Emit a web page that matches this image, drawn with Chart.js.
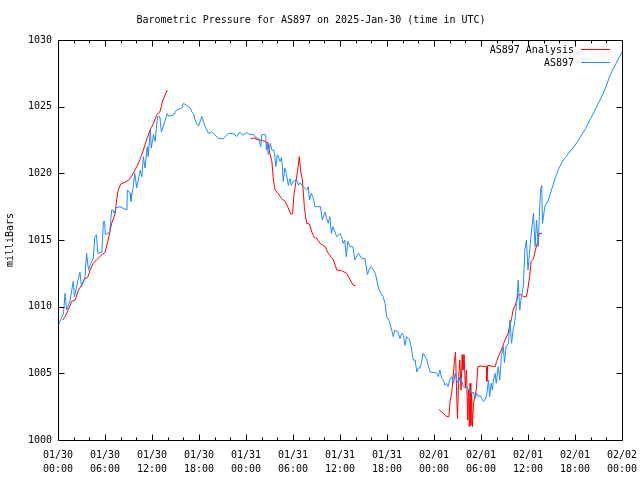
<!DOCTYPE html>
<html>
<head>
<meta charset="utf-8">
<script src="https://cdn.jsdelivr.net/npm/chart.js@4"></script>
<style>
  html, body { margin: 0; padding: 0; background: #fff; }
  #wrap { width: 640px; height: 480px; }
</style>
</head>
<body>
<div id="wrap"><canvas id="js-chart-baro"></canvas></div>
<script>
// Hours since 2025-01-30 00:00 UTC, and pressure readings (mb)
const blueHours = [
  0.0, 0.4, 0.7, 0.9, 1.1, 1.5, 1.95, 2.1, 2.6, 2.8, 3.0, 3.45, 3.65, 3.9, 4.1, 4.5, 4.7, 4.9, 5.1, 5.6,
  5.8, 5.95, 6.05, 6.6, 6.85, 7.0, 7.2, 7.4, 7.9, 8.8, 8.85, 9.2, 9.3, 9.6, 9.8, 10.05, 10.5, 10.7, 10.9, 11.1,
  11.4, 11.5, 11.8, 11.9, 12.2, 12.4, 12.7, 13.0, 13.2, 13.7, 13.95, 14.1, 14.7, 15.15, 15.8, 16.0, 16.45, 16.85, 17.1, 17.3,
  17.5, 17.8, 17.95, 18.35, 18.8, 19.2, 19.6, 20.0, 20.5, 21.1, 21.75, 22.5, 22.8, 23.2, 23.6, 24.1, 24.5, 24.9, 25.2, 25.6,
  25.9, 26.0, 26.5, 26.6, 26.7, 26.85, 27.1, 27.3, 27.5, 27.65, 27.8, 28.0, 28.35, 28.55, 28.75, 28.95, 29.15, 29.4, 29.6, 29.8,
  30.0, 30.5, 30.7, 30.9, 31.3, 31.75, 31.95, 32.1, 32.35, 32.6, 32.8, 33.5, 33.75, 34.1, 34.3, 34.5, 34.7, 34.9, 35.1, 35.35,
  35.6, 36.0, 36.2, 36.4, 36.6, 36.8, 37.0, 37.3, 37.65, 37.9, 38.35, 38.8, 39.2, 39.5, 39.8, 40.0, 40.5, 40.7, 40.9, 41.1,
  41.5, 41.75, 41.95, 42.3, 42.6, 42.8, 43.0, 43.4, 43.65, 43.9, 44.1, 44.3, 44.5, 44.9, 45.15, 45.35, 45.6, 45.8, 46.0, 46.2,
  46.4, 46.6, 47.05, 47.25, 47.5, 48.1, 48.35, 48.55, 48.75, 49.0, 49.2, 49.4, 49.6, 49.8, 50.0, 50.25, 50.5, 50.7, 50.9, 51.1,
  51.3, 51.5, 51.75, 51.95, 52.2, 52.4, 52.6, 52.8, 53.0, 53.25, 53.45, 53.65, 53.9, 54.1, 54.3, 54.5, 54.7, 54.95, 55.1, 55.3,
  55.45, 55.6, 55.8, 55.95, 56.2, 56.4, 56.6, 56.85, 57.0, 57.2, 57.5, 57.7, 57.9, 58.1, 58.3, 58.55, 58.75, 58.95, 59.15, 59.4,
  59.6, 59.8, 60.0, 60.3, 60.5, 60.7, 60.9, 61.1, 61.3, 61.45, 61.6, 61.75, 61.85, 62.15, 62.6, 63.0, 63.45, 63.85, 64.4, 65.3,
  66.0, 66.6, 67.3, 67.9, 68.6, 69.2, 69.9, 70.5, 71.2, 72.0
];
const bluePressure = [
  1008.6, 1009.1, 1009.5, 1011.0, 1009.75, 1010.35, 1011.9, 1010.75, 1012.1, 1012.6, 1011.5, 1012.25, 1014.0, 1012.75, 1013.1, 1013.65, 1015.25, 1015.4, 1014.0, 1014.1,
  1016.4, 1016.4, 1015.4, 1015.6, 1017.25, 1017.25, 1017.0, 1017.4, 1017.5, 1017.25, 1018.75, 1018.5, 1017.9, 1019.0, 1020.0, 1018.9, 1020.25, 1019.75, 1021.25, 1020.4,
  1022.0, 1021.25, 1023.25, 1021.9, 1022.9, 1022.4, 1024.25, 1024.25, 1023.1, 1024.0, 1024.5, 1024.3, 1024.35, 1024.75, 1024.9, 1025.25, 1025.1, 1024.9, 1024.6, 1024.5,
  1024.0, 1023.6, 1023.55, 1024.25, 1023.5, 1023.0, 1023.1, 1022.9, 1022.6, 1022.6, 1023.0, 1022.95, 1022.75, 1023.1, 1022.85, 1023.05, 1022.9, 1022.95, 1022.7, 1022.6,
  1022.0, 1022.9, 1022.9, 1021.75, 1022.25, 1021.4, 1022.25, 1021.75, 1021.75, 1021.5, 1020.5, 1021.4, 1020.9, 1021.2, 1019.4, 1020.4, 1020.0, 1019.1, 1019.6, 1019.1,
  1019.4, 1019.5, 1019.1, 1019.3, 1019.0, 1018.75, 1019.0, 1018.0, 1018.5, 1018.1, 1017.5, 1017.5, 1016.5, 1017.1, 1016.6, 1016.25, 1016.75, 1015.5, 1016.0, 1015.6,
  1015.25, 1015.5, 1015.25, 1014.75, 1015.0, 1013.75, 1014.9, 1014.5, 1014.5, 1013.5, 1014.0, 1013.6, 1013.6, 1012.4, 1012.9, 1013.0, 1012.5, 1012.0, 1011.4, 1011.1,
  1010.75, 1010.25, 1009.25, 1008.9, 1008.25, 1007.75, 1008.25, 1008.1, 1007.6, 1008.0, 1007.85, 1007.1, 1007.75, 1007.5, 1006.75, 1006.0, 1006.0, 1005.1, 1005.4, 1005.4,
  1005.75, 1006.5, 1006.1, 1005.6, 1005.1, 1005.05, 1005.0, 1004.75, 1005.25, 1004.6, 1004.5, 1004.1, 1004.25, 1004.0, 1004.5, 1004.75, 1004.25, 1005.0, 1004.5, 1004.25,
  1004.75, 1004.5, 1004.0, 1003.9, 1004.0, 1003.75, 1003.75, 1003.5, 1003.6, 1003.1, 1003.5, 1003.25, 1003.35, 1003.1, 1002.9, 1003.0, 1003.25, 1004.5, 1003.25, 1004.25,
  1003.75, 1004.5, 1005.0, 1004.25, 1005.5, 1004.5, 1006.25, 1007.0, 1005.8, 1007.0, 1007.25, 1009.0, 1007.25, 1008.25, 1008.8, 1010.25, 1012.0, 1009.75, 1010.75, 1011.5,
  1014.25, 1015.0, 1012.75, 1014.75, 1016.0, 1017.0, 1014.5, 1016.5, 1014.5, 1016.75, 1018.75, 1019.1, 1016.25, 1017.5, 1018.0, 1018.75, 1019.6, 1020.25, 1020.9, 1021.6,
  1022.1, 1022.65, 1023.3, 1024.0, 1024.8, 1025.5, 1026.4, 1027.4, 1028.2, 1029.1
];

// Analysis series, null marks the gaps between runs
const redHours = [
  0.6, 0.9, 1.3, 1.75, 2.2, 2.6, 3.0, 3.45, 3.8, 4.1, 4.5, 4.9, 5.6, 6.0, 6.4, 6.85, 7.3, 7.5, 7.7, 8.0,
  8.8, 9.2, 9.6, 10.05, 10.5, 10.9, 11.3, 11.75, 12.2, 12.6, 13.0, 13.4, 13.95, 19.0,
  24.6, 25.0, 25.4, 25.8, 26.4, 26.8, 27.05, 27.3, 27.5, 27.7, 28.1, 28.55, 29.0, 29.4, 29.7, 29.95, 30.1, 30.4, 30.6, 30.8,
  31.0, 31.2, 31.45, 31.6, 31.75, 32.1, 32.4, 32.7, 33.0, 33.45, 34.1, 34.5, 35.15, 35.6, 36.2, 36.85, 37.3, 37.7, 38.0, 43.0,
  48.6, 49.2, 49.6, 49.9, 50.05, 50.25, 50.45, 50.6, 50.75, 50.9, 51.0, 51.15, 51.3, 51.45, 51.6, 51.7, 51.85, 52.0, 52.15, 52.3,
  52.4, 52.5, 52.6, 52.7, 52.8, 52.9, 53.05, 53.2, 53.4, 53.6, 54.0, 54.4, 54.7, 54.75, 54.85, 55.3, 55.8, 56.0, 56.2, 56.6,
  57.0, 57.45, 57.9, 58.1, 58.45, 58.75, 59.1, 59.4, 59.8, 60.0, 60.2, 60.4, 60.7, 60.95, 61.25, 61.45, 61.8
];
const redPressure = [
  1009.0, 1009.25, 1009.75, 1010.4, 1010.5, 1011.25, 1011.6, 1012.1, 1012.2, 1012.75, 1013.25, 1013.5, 1013.9, 1014.05, 1015.0, 1016.25, 1017.0, 1018.1, 1018.75, 1019.2,
  1019.4, 1019.6, 1020.0, 1020.5, 1021.1, 1021.75, 1022.5, 1023.25, 1023.75, 1024.4, 1024.6, 1025.5, 1026.25, null,
  1022.6, 1022.65, 1022.55, 1022.5, 1022.4, 1022.3, 1021.5, 1020.9, 1019.5, 1018.75, 1018.5, 1018.1, 1017.9, 1017.4, 1016.95, 1016.95, 1018.25, 1019.5, 1020.25, 1021.25,
  1020.1, 1019.5, 1017.5, 1016.75, 1016.25, 1016.2, 1015.6, 1015.2, 1015.15, 1014.75, 1014.5, 1014.0, 1013.5, 1012.75, 1012.7, 1012.5, 1012.0, 1011.6, 1011.6, null,
  1002.3, 1002.0, 1001.75, 1001.75, 1002.9, 1003.5, 1004.75, 1005.9, 1006.6, 1003.25, 1001.6, 1004.75, 1006.0, 1003.75, 1006.4, 1005.25, 1006.4, 1003.9, 1005.25, 1001.5,
  1003.75, 1001.0, 1004.25, 1001.1, 1003.5, 1001.0, 1002.75, 1003.25, 1003.75, 1005.5, 1005.55, 1005.5, 1005.5, 1004.4, 1005.6, 1005.55, 1005.5, 1005.9, 1006.2, 1006.75,
  1007.4, 1008.0, 1009.1, 1009.75, 1010.25, 1010.9, 1010.9, 1010.75, 1010.75, 1011.4, 1012.25, 1013.4, 1013.6, 1014.25, 1014.9, 1015.5, 1015.5
];

// Axis tick labels (every 6 hours)
const tickDates = ['01/30', '01/30', '01/30', '01/30', '01/31', '01/31', '01/31', '01/31', '02/01', '02/01', '02/01', '02/01', '02/02'];
const tickTimes = ['00:00', '06:00', '12:00', '18:00', '00:00', '06:00', '12:00', '18:00', '00:00', '06:00', '12:00', '18:00', '00:00'];
const yTicks = [1000, 1005, 1010, 1015, 1020, 1025, 1030];

const seriesNames = ['AS897 Analysis', 'AS897'];
const seriesColors = ['#ff0000', '#1e8cff'];

const monoFont = { family: "'DejaVu Sans Mono', monospace", size: 10 };

// Frame, inward ticks and legend drawn the gnuplot way
const gnuplotFrame = {
  id: 'gnuplotFrame',
  afterDraw(chart) {
    const { ctx, chartArea: a, scales: { x, y } } = chart;
    const L = Math.round(a.left) + .5, R = Math.round(a.right) + .5;
    const T = Math.round(a.top) + .5, B = Math.round(a.bottom) + .5;
    const seg = (x1, y1, x2, y2) => { ctx.moveTo(x1, y1); ctx.lineTo(x2, y2); };

    ctx.save();
    ctx.strokeStyle = '#000';
    ctx.lineWidth = 1;
    ctx.beginPath();
    ctx.rect(L, T, R - L, B - T);

    // x ticks: major every 6h, minor every 2h, bottom and top
    for (let h = 0; h <= 72; h += 2) {
      const px = Math.round(x.getPixelForValue(h)) + .5;
      const len = h % 6 === 0 ? 6 : 3;
      seg(px, B, px, B - len);
      seg(px, T, px, T + len);
    }
    // y ticks, left and right
    yTicks.forEach(v => {
      const py = Math.round(y.getPixelForValue(v)) + .5;
      seg(L, py, L + 6, py);
      seg(R, py, R - 6, py);
    });
    ctx.stroke();

    // legend
    ctx.font = "10px 'DejaVu Sans Mono', monospace";
    ctx.fillStyle = '#000';
    ctx.textAlign = 'right';
    ctx.textBaseline = 'middle';
    seriesNames.forEach((name, i) => {
      const ly = 50 + i * 13;
      ctx.fillText(name, 574, ly);
      ctx.beginPath();
      ctx.strokeStyle = seriesColors[i];
      seg(581, ly - .5, 610, ly - .5);
      ctx.stroke();
    });
    ctx.restore();
  }
};

let chartCon = document.getElementById('js-chart-baro');

let chartData = {
  datasets: [
    {
      label: seriesNames[1],
      data: blueHours.map((h, i) => ({ x: h, y: bluePressure[i] })),
      borderColor: seriesColors[1],
      borderWidth: 1,
      pointRadius: 0,
      tension: 0
    },
    {
      label: seriesNames[0],
      data: redHours.map((h, i) => ({ x: h, y: redPressure[i] })),
      borderColor: seriesColors[0],
      borderWidth: 1,
      pointRadius: 0,
      tension: 0,
      spanGaps: false
    }
  ]
};

let chartBaro = new Chart(chartCon, {
  type: 'line',
  data: chartData,
  plugins: [gnuplotFrame],
  options: {
    responsive: true,
    maintainAspectRatio: false,
    animation: false,
    layout: { padding: { left: 0, right: 18, top: 0, bottom: 0 } },
    plugins: {
      legend: { display: false },
      tooltip: { enabled: false },
      title: {
        display: true,
        text: 'Barometric Pressure for AS897 on 2025-Jan-30 (time in UTC)',
        color: '#000',
        font: { ...monoFont, weight: 'normal', lineHeight: 1.2 },
        padding: { top: 14, bottom: 14 }
      }
    },
    scales: {
      x: {
        type: 'linear',
        min: 0,
        max: 72,
        afterFit: s => { s.height = 40; s.paddingLeft = 0; s.paddingRight = 0; },
        grid: { display: false, drawTicks: false },
        border: { display: false },
        ticks: {
          stepSize: 6,
          autoSkip: false,
          maxRotation: 0,
          padding: 8,
          color: '#000',
          font: { ...monoFont, lineHeight: 1.4 },
          callback: v => [tickDates[v / 6], tickTimes[v / 6]]
        }
      },
      y: {
        min: 1000,
        max: 1030,
        afterFit: s => { s.width = 58; s.paddingTop = 0; s.paddingBottom = 0; },
        grid: { display: false, drawTicks: false },
        border: { display: false },
        ticks: { stepSize: 5, padding: 6, color: '#000', font: monoFont, callback: v => String(v) },
        title: {
          display: true,
          text: 'milliBars',
          color: '#000',
          font: monoFont,
          padding: { top: 4, bottom: 0 }
        }
      }
    }
  }
});
</script>
</body>
</html>
